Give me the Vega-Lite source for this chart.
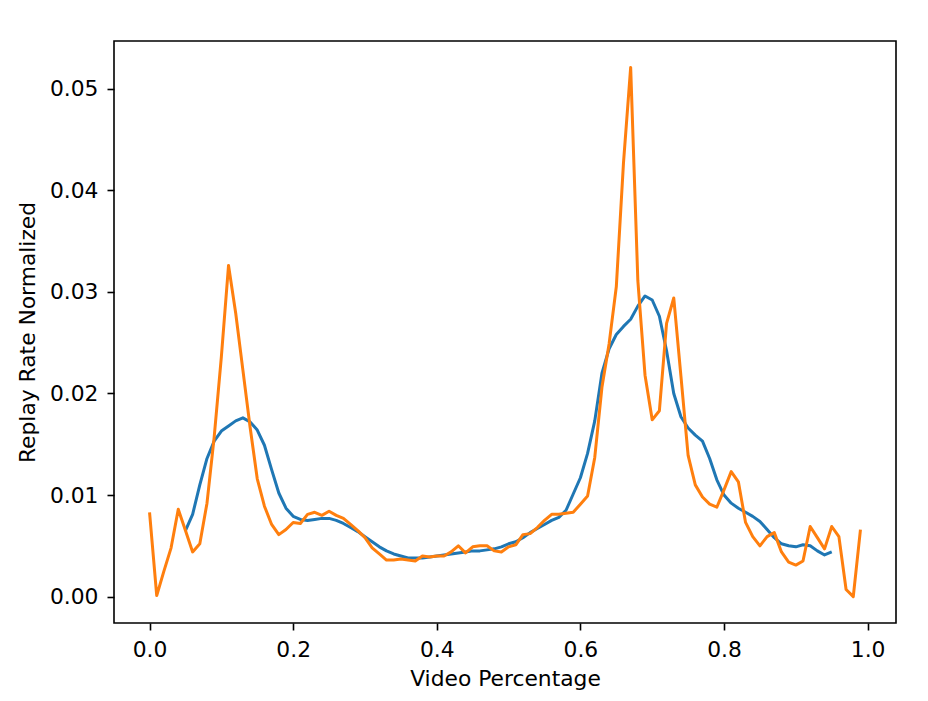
{
  "$schema": "https://vega.github.io/schema/vega-lite/v6.json",
  "width": 782,
  "height": 582,
  "autosize": {"type": "none"},
  "padding": {"left": 114, "top": 41, "right": 32, "bottom": 78},
  "background": "white",
  "config": {
    "view": {"stroke": "black", "strokeWidth": 1.6},
    "font": "DejaVu Sans",
    "axis": {
      "grid": false,
      "domain": false,
      "tickColor": "black",
      "tickSize": 7,
      "tickWidth": 1.6,
      "labelFont": "DejaVu Sans",
      "labelFontSize": 21.8,
      "labelColor": "black",
      "labelPadding": 9,
      "titleFont": "DejaVu Sans",
      "titleFontSize": 21.8,
      "titleFontWeight": "normal",
      "titleColor": "black"
    }
  },
  "datasets": {
    "blue": [
      {"x":0.05,"y":0.0065},{"x":0.06,"y":0.0081},{"x":0.07,"y":0.0110},{"x":0.08,"y":0.0136},{"x":0.09,"y":0.0153},
      {"x":0.10,"y":0.0163},{"x":0.11,"y":0.0168},{"x":0.12,"y":0.0173},{"x":0.13,"y":0.0176},{"x":0.14,"y":0.0172},
      {"x":0.15,"y":0.0164},{"x":0.16,"y":0.0149},{"x":0.17,"y":0.0125},{"x":0.18,"y":0.0102},{"x":0.19,"y":0.0087},
      {"x":0.20,"y":0.0079},{"x":0.21,"y":0.0076},{"x":0.22,"y":0.0075},{"x":0.23,"y":0.0076},{"x":0.24,"y":0.0077},
      {"x":0.25,"y":0.0077},{"x":0.26,"y":0.0075},{"x":0.27,"y":0.0072},{"x":0.28,"y":0.0068},{"x":0.29,"y":0.0064},
      {"x":0.30,"y":0.0059},{"x":0.31,"y":0.0054},{"x":0.32,"y":0.0049},{"x":0.33,"y":0.0045},{"x":0.34,"y":0.0042},
      {"x":0.35,"y":0.0040},{"x":0.36,"y":0.0038},{"x":0.37,"y":0.0038},{"x":0.38,"y":0.0038},{"x":0.39,"y":0.0039},
      {"x":0.40,"y":0.0040},{"x":0.41,"y":0.0041},{"x":0.42,"y":0.0042},{"x":0.43,"y":0.0043},{"x":0.44,"y":0.0044},
      {"x":0.45,"y":0.0045},{"x":0.46,"y":0.0045},{"x":0.47,"y":0.0046},{"x":0.48,"y":0.0047},{"x":0.49,"y":0.0049},
      {"x":0.50,"y":0.0052},{"x":0.51,"y":0.0054},{"x":0.52,"y":0.0058},{"x":0.53,"y":0.0063},{"x":0.54,"y":0.0067},
      {"x":0.55,"y":0.0071},{"x":0.56,"y":0.0075},{"x":0.57,"y":0.0078},{"x":0.58,"y":0.0085},{"x":0.59,"y":0.0101},
      {"x":0.60,"y":0.0117},{"x":0.61,"y":0.0141},{"x":0.62,"y":0.0173},{"x":0.63,"y":0.0220},{"x":0.64,"y":0.0244},
      {"x":0.65,"y":0.0258},{"x":0.66,"y":0.0266},{"x":0.67,"y":0.0273},{"x":0.68,"y":0.0286},{"x":0.69,"y":0.0296},
      {"x":0.70,"y":0.0292},{"x":0.71,"y":0.0276},{"x":0.72,"y":0.0242},{"x":0.73,"y":0.0200},{"x":0.74,"y":0.0177},
      {"x":0.75,"y":0.0166},{"x":0.76,"y":0.0159},{"x":0.77,"y":0.0153},{"x":0.78,"y":0.0136},{"x":0.79,"y":0.0115},
      {"x":0.80,"y":0.0100},{"x":0.81,"y":0.0092},{"x":0.82,"y":0.0087},{"x":0.83,"y":0.0083},{"x":0.84,"y":0.0079},
      {"x":0.85,"y":0.0074},{"x":0.86,"y":0.0066},{"x":0.87,"y":0.0058},{"x":0.88,"y":0.0052},{"x":0.89,"y":0.0050},
      {"x":0.90,"y":0.0049},{"x":0.91,"y":0.0051},{"x":0.92,"y":0.0050},{"x":0.93,"y":0.0045},{"x":0.94,"y":0.0041},
      {"x":0.95,"y":0.0044}
    ],
    "orange": [
      {"x":0.00,"y":0.0083},{"x":0.01,"y":0.0001},{"x":0.02,"y":0.0025},{"x":0.03,"y":0.0048},{"x":0.04,"y":0.0086},
      {"x":0.05,"y":0.0065},{"x":0.06,"y":0.0044},{"x":0.07,"y":0.0052},{"x":0.08,"y":0.0092},{"x":0.09,"y":0.0157},
      {"x":0.10,"y":0.0236},{"x":0.11,"y":0.0326},{"x":0.12,"y":0.0279},{"x":0.13,"y":0.0223},{"x":0.14,"y":0.0167},
      {"x":0.15,"y":0.0116},{"x":0.16,"y":0.0089},{"x":0.17,"y":0.0071},{"x":0.18,"y":0.0061},{"x":0.19,"y":0.0066},
      {"x":0.20,"y":0.0073},{"x":0.21,"y":0.0072},{"x":0.22,"y":0.0081},{"x":0.23,"y":0.0083},{"x":0.24,"y":0.0080},
      {"x":0.25,"y":0.0084},{"x":0.26,"y":0.0080},{"x":0.27,"y":0.0077},{"x":0.28,"y":0.0071},{"x":0.29,"y":0.0065},
      {"x":0.30,"y":0.0058},{"x":0.31,"y":0.0048},{"x":0.32,"y":0.0042},{"x":0.33,"y":0.0036},{"x":0.34,"y":0.0036},
      {"x":0.35,"y":0.0037},{"x":0.36,"y":0.0036},{"x":0.37,"y":0.0035},{"x":0.38,"y":0.0040},{"x":0.39,"y":0.0039},
      {"x":0.40,"y":0.0040},{"x":0.41,"y":0.0040},{"x":0.42,"y":0.0044},{"x":0.43,"y":0.0050},{"x":0.44,"y":0.0043},
      {"x":0.45,"y":0.0049},{"x":0.46,"y":0.0050},{"x":0.47,"y":0.0050},{"x":0.48,"y":0.0045},{"x":0.49,"y":0.0044},
      {"x":0.50,"y":0.0049},{"x":0.51,"y":0.0051},{"x":0.52,"y":0.0061},{"x":0.53,"y":0.0062},{"x":0.54,"y":0.0068},
      {"x":0.55,"y":0.0075},{"x":0.56,"y":0.0081},{"x":0.57,"y":0.0081},{"x":0.58,"y":0.0082},{"x":0.59,"y":0.0083},
      {"x":0.60,"y":0.0091},{"x":0.61,"y":0.0099},{"x":0.62,"y":0.0137},{"x":0.63,"y":0.0206},{"x":0.64,"y":0.0249},
      {"x":0.65,"y":0.0305},{"x":0.66,"y":0.0427},{"x":0.67,"y":0.0521},{"x":0.68,"y":0.0311},{"x":0.69,"y":0.0218},
      {"x":0.70,"y":0.0174},{"x":0.71,"y":0.0183},{"x":0.72,"y":0.0269},{"x":0.73,"y":0.0294},{"x":0.74,"y":0.0217},
      {"x":0.75,"y":0.0139},{"x":0.76,"y":0.0110},{"x":0.77,"y":0.0098},{"x":0.78,"y":0.0091},{"x":0.79,"y":0.0088},
      {"x":0.80,"y":0.0105},{"x":0.81,"y":0.0123},{"x":0.82,"y":0.0113},{"x":0.83,"y":0.0073},{"x":0.84,"y":0.0059},
      {"x":0.85,"y":0.0050},{"x":0.86,"y":0.0059},{"x":0.87,"y":0.0063},{"x":0.88,"y":0.0044},{"x":0.89,"y":0.0034},
      {"x":0.90,"y":0.0031},{"x":0.91,"y":0.0035},{"x":0.92,"y":0.0069},{"x":0.93,"y":0.0058},{"x":0.94,"y":0.0047},
      {"x":0.95,"y":0.0069},{"x":0.96,"y":0.0059},{"x":0.97,"y":0.0007},{"x":0.98,"y":0.0000},{"x":0.99,"y":0.0066}
    ]
  },
  "encoding": {
    "x": {
      "field": "x", "type": "quantitative",
      "scale": {"domain": [-0.0495, 1.0395], "nice": false, "zero": false},
      "axis": {"values": [0, 0.2, 0.4, 0.6, 0.8, 1.0], "format": ".1f", "title": "Video Percentage", "titlePadding": 8}
    },
    "y": {
      "field": "y", "type": "quantitative",
      "scale": {"domain": [-0.0026, 0.0547], "nice": false, "zero": false},
      "axis": {"values": [0, 0.01, 0.02, 0.03, 0.04, 0.05], "format": ".2f", "title": "Replay Rate Normalized", "titlePadding": 10}
    }
  },
  "layer": [
    {"data": {"name": "blue"}, "mark": {"type": "line", "color": "#1f77b4", "strokeWidth": 3, "strokeJoin": "round", "clip": true}},
    {"data": {"name": "orange"}, "mark": {"type": "line", "color": "#ff7f0e", "strokeWidth": 3, "strokeJoin": "round", "clip": true}}
  ]
}
